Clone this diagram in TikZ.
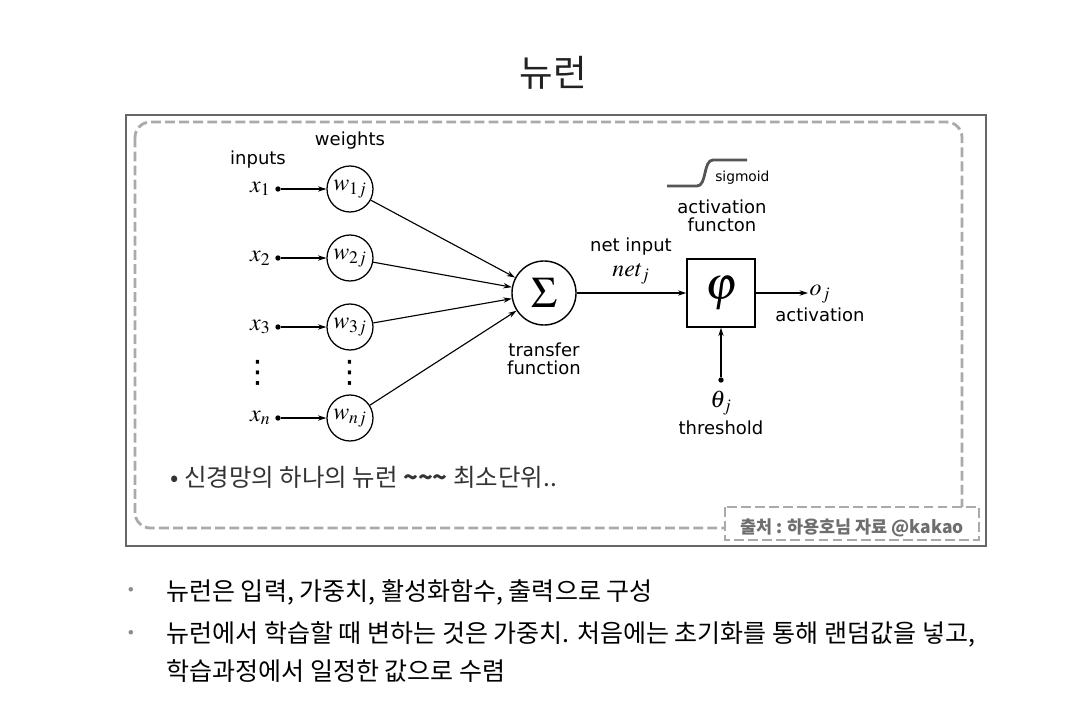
\RequirePackage{fix-cm}
\documentclass[tikz,border=0pt]{standalone}
\usepackage{mathptmx}
\usepackage[no-math]{fontspec}
\setmainfont{DejaVu Sans}
\newfontfamily\kr{Noto Sans CJK KR}
\usepackage{amsmath}
\usetikzlibrary{arrows.meta, positioning}
\definecolor{framegray}{HTML}{666666}
\definecolor{dashgray}{HTML}{AAAAAA}
\definecolor{srcgray}{HTML}{6E6E6E}
\definecolor{textdark}{HTML}{222222}
\definecolor{sigmagray}{HTML}{555555}

\begin{document}
\begin{tikzpicture}[x=0.025cm, y=-0.025cm,
    conn/.style={-{Stealth[length=6pt, width=3.8pt]}, line width=0.8pt},
    dotnode/.style={circle, fill, inner sep=0pt, minimum size=3.8pt},
    wnode/.style={circle, draw, line width=0.9pt, minimum size=1.15cm, inner sep=0pt, font=\fontsize{17}{18}\selectfont},
    lbl/.style={font=\fontsize{12.8}{13}\selectfont, align=center, inner sep=0pt},
    mlbl/.style={font=\fontsize{17}{18}\selectfont, inner sep=1pt},
    vdot/.style={font=\fontsize{22}{22}\selectfont, inner sep=0pt},
    krtext/.style={font=\kr\fontsize{17.8}{20}\selectfont, anchor=west, inner sep=0pt},
    dashbox/.style={dashgray, line width=2pt, dash pattern=on 7pt off 3pt}]

    \useasboundingbox (0,0) rectangle (1083,722);
    \fill[white] (0,0) rectangle (1083,722);

    % 제목
    \node[font=\kr\fontsize{26}{30}\selectfont, text=textdark] (title) at (553,73) {뉴런};

    % 그림 틀
    \draw[framegray, line width=0.8pt] (126,115) rectangle (986,546);
    \draw[dashbox, rounded corners=11pt] (135,122) rectangle (962,528);

    % 합 노드와 활성 함수
    \node[circle, draw, line width=1pt, minimum size=1.6cm, inner sep=0pt, font=\fontsize{31}{31}\selectfont] (sum) at (544,293) {$\Sigma$};
    \node[draw, line width=1pt, minimum size=1.7cm, inner sep=0pt, font=\fontsize{33}{33}\selectfont] (phi) at (721,293) {$\varphi$};

    % 입력과 가중치
    \foreach \i/\yy in {1/189, 2/258, 3/327, n/418} {
        \node[mlbl, anchor=east] (x\i) at (272,\yy) {$x_{\i}$};
        \node[dotnode] (d\i) at (278,\yy) {};
        \node[wnode] (w\i) at (350,\yy) {$w_{\i j}$};
        \draw[conn] (d\i) -- (w\i);
        \draw[conn] (w\i) -- (sum);
    }
    \node[vdot] (xdots) at (258,373) {⋮};
    \node[vdot] (wdots) at (350,373) {⋮};
    \node[lbl] (inputs) at (258,160) {inputs};
    \node[lbl] (weights) at (350,141) {weights};
    \node[lbl] (transfer) at (544,359) {transfer\\function};

    % net input -> 활성 함수 -> 출력
    \node[lbl] (netin) at (631,247) {net input};
    \node[mlbl] (netj) at (631,274) {$net_j$};
    \draw[conn] (sum) -- (phi);
    \node[mlbl, anchor=west] (oj) at (808,294) {$o_j$};
    \draw[conn] (phi) -- (phi -| oj.west);
    \node[lbl] (activ) at (820,315) {activation};
    \node[dotnode] (th) at (721,380) {};
    \draw[conn] (th) -- (phi);
    \node[mlbl] (theta) at (721,403) {$\theta_j$};
    \node[lbl] (thresh) at (721,428) {threshold};
    \node[lbl] (actfn) at (722,216) {activation\\functon};

    % sigmoid 모양
    \draw[sigmagray, line width=2pt] (667,186) -- (697,186) .. controls (707,186) and (703,160) .. (713,160) -- (747,160);
    \node[lbl, font=\fontsize{9.8}{11}\selectfont, anchor=west] (sigm) at (715,178) {sigmoid};

    \node[krtext, font=\kr\fontsize{17.4}{20}\selectfont, text=black!80] (note) at (170,477) {• 신경망의 하나의 뉴런 {\bfseries\textasciitilde\textasciitilde\textasciitilde} 최소단위..};

    % 출처
    \draw[dashbox, fill=white] (725,507) rectangle (979,540);
    \node[font=\kr\bfseries\fontsize{12.4}{14}\selectfont, text=srcgray] (src) at (852,528) {출처 : 하용호님 자료 @kakao};

    % 아래 설명
    \node[text=black!45, font=\fontsize{11}{11}\selectfont] (b1) at (131,592) {•};
    \node[krtext] (line1) at (166,592) {뉴런은 입력, 가중치, 활성화함수, 출력으로 구성};
    \node[text=black!45, font=\fontsize{11}{11}\selectfont] (b2) at (131,634) {•};
    \node[krtext] (line2) at (166,634) {뉴런에서 학습할 때 변하는 것은 가중치. 처음에는 초기화를 통해 랜덤값을 넣고,};
    \node[krtext] (line3) at (166,671) {학습과정에서 일정한 값으로 수렴};
\end{tikzpicture}
\end{document}
